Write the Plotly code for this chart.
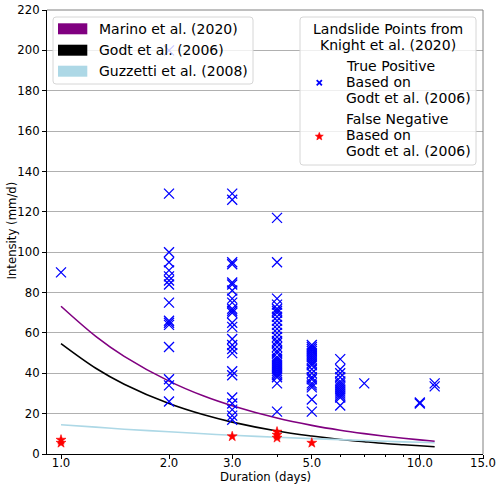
import numpy as np
import plotly.graph_objects as go

# ---- Threshold curves ----
curve_days = [1, 1.25, 1.5, 2, 2.5, 3, 4, 5, 6, 7, 8, 9, 10, 11]
marino_2020 = [73.2, 58.3, 48.4, 36.1, 28.7, 23.9, 17.8, 14.2, 11.8, 10.1, 8.8, 7.8, 7.0, 6.3]
godt_2006 = [54.7, 42.5, 34.6, 25.0, 19.4, 15.8, 11.4, 8.9, 7.2, 6.1, 5.2, 4.6, 4.1, 3.6]
guzzetti_2008 = [14.5, 13.3, 12.3, 11.0, 10.0, 9.3, 8.3, 7.6, 7.1, 6.7, 6.3, 6.0, 5.8, 5.6]

# ---- Landslide points: true positives (days -> intensities) ----
tp_days = [1, 2, 3, 4, 5, 6, 7, 10, 11]
tp_intensity = [
    [90],
    [200, 129, 100, 95, 91, 88, 86, 84, 75, 66, 65, 64, 53, 37, 34, 26],
    [129, 126, 95, 94, 85, 84, 81, 77, 75, 72, 71, 70, 65, 63, 57, 54, 52, 50, 41, 39, 28, 25, 22, 19, 17],
    [117, 95, 77, 74, 72, 71, 70, 68, 66, 64, 62, 60, 58, 56, 55, 53, 51, 50, 48, 47, 46, 45, 44, 43,
     42, 41, 40, 39, 38, 35, 21],
    [54, 53, 52, 51, 50, 49, 48, 47, 46, 45, 44, 42, 40, 38, 37, 35, 34, 33, 27, 21],
    [47, 42, 40, 38, 36, 35, 34, 33, 32, 31, 30, 29, 28, 24],
    [35],
    [25, 25.5],
    [35, 33.5],
]

# ---- False negatives ----
fn_days = [1, 1, 3, 4, 4, 4, 5]
fn_intensity = [7, 5.5, 8.7, 11, 9.5, 8, 5.5]

x_ticks = [1, 2, 3, 5, 10, 15]
x_ticktext = ["1.0", "2.0", "3.0", "5.0", "10.0", "15.0"]
x_minor = [4, 6, 7, 8, 9]
y_ticks = list(range(0, 221, 20))

x_title = "Duration (days)"
y_title = "Intensity (mm/d)"
curve_names = ["Marino et al. (2020)", "Godt et al. (2006)", "Guzzetti et al. (2008)"]
curve_colors = ["purple", "black", "lightblue"]
legend2_title = ["Landslide Points from", "Knight et al. (2020)"]
legend2_entries = [["True Positive", "Based on", "Godt et al. (2006)"],
                   ["False Negative", "Based on", "Godt et al. (2006)"]]

FONT = "DejaVu Sans"
W, H = 500, 488
ML, MR, MT, MB = 47, 17, 10, 34
PW, PH = W - ML - MR, H - MT - MB


def px(p):  # figure pixel x -> paper x
    return (p - ML) / PW


def py(p):  # figure pixel y -> paper y
    return (H - MB - p) / PH


tp_x = [d for d, vals in zip(tp_days, tp_intensity) for _ in vals]
tp_y = [v for vals in tp_intensity for v in vals]

fig = go.Figure()

for name, vals, col in zip(curve_names, [marino_2020, godt_2006, guzzetti_2008], curve_colors):
    fig.add_trace(go.Scatter(x=curve_days, y=vals, mode="lines", name=name,
                             line=dict(color=col, width=1.6, shape="spline"), showlegend=False))

fig.add_trace(go.Scatter(x=tp_x, y=tp_y, mode="markers", name="True Positive",
                         marker=dict(symbol="x-thin", size=10, line=dict(color="blue", width=1.3), color="blue"),
                         showlegend=False))
fig.add_trace(go.Scatter(x=fn_days, y=fn_intensity, mode="markers", name="False Negative",
                         marker=dict(symbol="star", size=7.5, color="red", line=dict(color="red", width=0.6)),
                         showlegend=False))


def rounded_box(x0, y0, x1, y1, r=3):
    # pixel box -> rounded path in paper coords
    rx, ry = r / PW, r / PH
    X0, X1, Y0, Y1 = px(x0), px(x1), py(y1), py(y0)
    return (f"M {X0+rx},{Y0} L {X1-rx},{Y0} Q {X1},{Y0} {X1},{Y0+ry} L {X1},{Y1-ry} "
            f"Q {X1},{Y1} {X1-rx},{Y1} L {X0+rx},{Y1} Q {X0},{Y1} {X0},{Y1-ry} L {X0},{Y0+ry} "
            f"Q {X0},{Y0} {X0+rx},{Y0} Z")


shapes = [
    dict(type="line", xref="paper", yref="paper", x0=0, x1=1, y0=1, y1=1, line=dict(color="#808080", width=1)),
    dict(type="line", xref="paper", yref="paper", x0=1, x1=1, y0=0, y1=1, line=dict(color="#808080", width=1)),
]
annotations = [
    dict(text=x_title, xref="paper", yref="paper", x=px(265), y=py(477), xanchor="center", yanchor="middle",
         showarrow=False, font=dict(family=FONT, size=11.7, color="black")),
    dict(text=y_title, xref="paper", yref="paper", x=px(11.5), y=py(231), xanchor="center", yanchor="middle",
         textangle=-90, showarrow=False, font=dict(family=FONT, size=11.7, color="black")),
]

# ---- legend 1 ----
shapes.append(dict(type="path", xref="paper", yref="paper", path=rounded_box(53, 17, 253, 84),
                   fillcolor="rgba(255,255,255,0.8)", line=dict(color="#d6d6d6", width=1), layer="above"))
row_y = [28.8, 50.2, 71.2]
for name, col, yy in zip(curve_names, curve_colors, row_y):
    shapes.append(dict(type="rect", xref="paper", yref="paper", x0=px(58), x1=px(87.3),
                       y0=py(yy + 5.5), y1=py(yy - 5.5), fillcolor=col, line=dict(width=0), layer="above"))
    annotations.append(dict(text=name, xref="paper", yref="paper", x=px(97), y=py(yy), xanchor="left",
                            yanchor="middle", showarrow=False, font=dict(family=FONT, size=14, color="black")))

# ---- legend 2 ----
shapes.append(dict(type="path", xref="paper", yref="paper", path=rounded_box(300, 17, 476, 165),
                   fillcolor="rgba(255,255,255,0.8)", line=dict(color="#d6d6d6", width=1), layer="above"))
for t, yy in zip(legend2_title, [29.3, 45.0]):
    annotations.append(dict(text=t, xref="paper", yref="paper", x=px(388), y=py(yy), xanchor="center",
                            yanchor="middle", showarrow=False, font=dict(family=FONT, size=14, color="black")))
entry_y = [[66, 81.8, 97.6], [119.5, 135.3, 151.1]]
for lines, ys in zip(legend2_entries, entry_y):
    for t, yy in zip(lines, ys):
        annotations.append(dict(text=t, xref="paper", yref="paper", x=px(344), y=py(yy), xanchor="left",
                                yanchor="middle", showarrow=False, font=dict(family=FONT, size=14, color="black")))

# legend glyph: blue x
cx, cy, s = 319.3, 82.7, 2.6
for a, b in [((-s, -s), (s, s)), ((-s, s), (s, -s))]:
    shapes.append(dict(type="line", xref="paper", yref="paper", x0=px(cx + a[0]), y0=py(cy + a[1]),
                       x1=px(cx + b[0]), y1=py(cy + b[1]), line=dict(color="blue", width=1.8), layer="above"))
# legend glyph: red star
cx, cy, ro, ri = 319.3, 136.5, 4.2, 1.8
pts = []
for k in range(10):
    ang = -np.pi / 2 + k * np.pi / 5
    rr = ro if k % 2 == 0 else ri
    pts.append((px(cx + rr * np.cos(ang)), py(cy + rr * np.sin(ang))))
star_path = "M " + " L ".join(f"{a},{b}" for a, b in pts) + " Z"
shapes.append(dict(type="path", xref="paper", yref="paper", path=star_path, fillcolor="red",
                   line=dict(color="red", width=0.6), layer="above"))

fig.update_layout(
    width=W, height=H,
    margin=dict(l=ML, r=MR, t=MT, b=MB),
    paper_bgcolor="white", plot_bgcolor="white",
    font=dict(family=FONT, size=12, color="black"),
    showlegend=False,
    xaxis=dict(type="log", range=[np.log10(0.914), np.log10(15)],
               tickvals=x_ticks, ticktext=x_ticktext, ticks="outside", ticklen=4, tickwidth=1,
               tickcolor="black", showline=True, linecolor="black", linewidth=1, mirror=False,
               showgrid=False, zeroline=False, tickfont=dict(size=11.7), automargin=False,
               ticklabelstandoff=-6,
               minor=dict(tickvals=x_minor, ticks="outside", ticklen=2, tickcolor="black", showgrid=False)),
    yaxis=dict(range=[0, 220], tickvals=y_ticks, ticks="outside", ticklen=4, tickwidth=1, tickcolor="black",
               showline=True, linecolor="black", linewidth=1, mirror=False, automargin=False,
               showgrid=True, gridcolor="#b0b0b0", gridwidth=1, zeroline=False, tickfont=dict(size=11.7)),
    shapes=shapes,
    annotations=annotations,
)

fig.write_html("out.html")
